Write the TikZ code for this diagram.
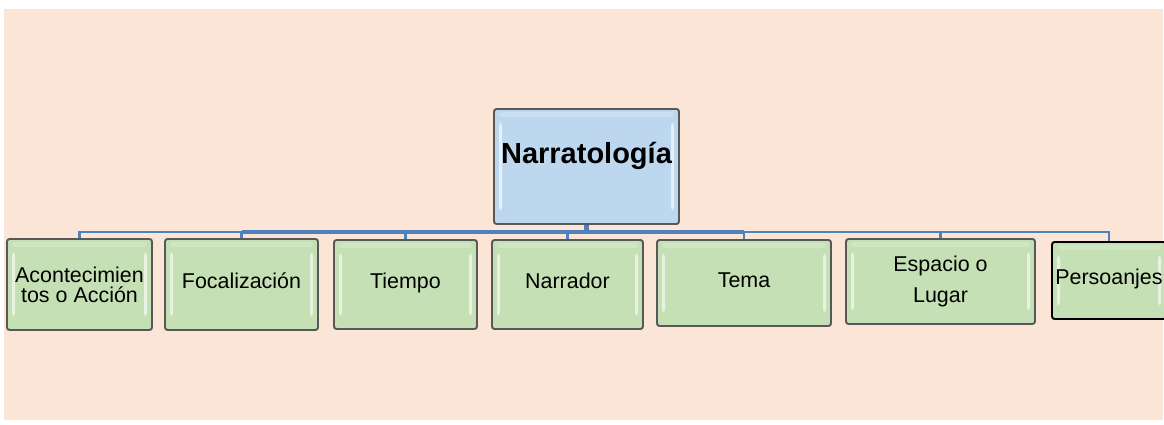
\documentclass[tikz,border=0pt]{standalone}
\usepackage{fontspec}
\setmainfont{Liberation Sans}
\usetikzlibrary{calc}

\definecolor{bgpeach}{RGB}{251,229,214}
\definecolor{rootblue}{RGB}{189,215,238}
\definecolor{leafgreen}{RGB}{197,224,180}
\definecolor{linkblue}{RGB}{79,129,189}
\definecolor{edgegray}{RGB}{88,88,88}

\begin{document}
\begin{tikzpicture}[x=0.02cm, y=-0.02cm,
    bevel/.style={draw=edgegray, line width=1.1pt, rounded corners=1.5pt, inner sep=0pt,
        align=center,
        path picture={
            \fill[white, opacity=.6] ($(path picture bounding box.north west)+(5,14)$) rectangle ($(path picture bounding box.south west)+(8,-14)$);
            \fill[white, opacity=.6] ($(path picture bounding box.north east)+(-8,14)$) rectangle ($(path picture bounding box.south east)+(-5,-14)$);
            \fill[white, opacity=.2] ($(path picture bounding box.north west)+(5,3)$) rectangle ($(path picture bounding box.north east)+(-5,8)$);
        }},
    leaf/.style={bevel, fill=leafgreen, font=\fontsize{12.2}{14}\selectfont},
    oneline/.style={leaf, text height=0.72em, text depth=0.21em},
    link/.style={linkblue, line width=1.2pt}]

    % === Background ===
    \useasboundingbox (0,0) rectangle (1164,425);
    \fill[bgpeach] (4,9) rectangle (1163,420);

    % === Root ===
    \node[bevel, fill=rootblue, minimum width=185*0.02cm, minimum height=115*0.02cm,
          font=\fontsize{16.5}{19}\selectfont\bfseries, text height=0.75em, text depth=1.06em]
          (root) at (586.5,166.5) {Narratología};

    % === Leaves ===
    \node[leaf, minimum width=145*0.02cm, minimum height=91*0.02cm, font=\fontsize{12.2}{11.4}\selectfont]
          (accion) at (79.5,284.5) {Acontecimien\\tos o Acción};
    \node[oneline, minimum width=153*0.02cm, minimum height=91*0.02cm] (focal) at (241.5,284.5) {Focalización};
    \node[oneline, minimum width=143*0.02cm, minimum height=89*0.02cm] (tiempo) at (405.5,284.5) {Tiempo};
    \node[oneline, minimum width=151*0.02cm, minimum height=89*0.02cm] (narrador) at (567.5,284.5) {Narrador};
    \node[oneline, minimum width=174*0.02cm, minimum height=86*0.02cm] (tema) at (744,283) {Tema};
    \node[leaf, minimum width=189*0.02cm, minimum height=85*0.02cm, font=\fontsize{12.2}{18}\selectfont]
          (espacio) at (940.5,281.5) {Espacio o\\Lugar};
    \node[oneline, minimum width=114*0.02cm, minimum height=77*0.02cm, draw=black] (personajes) at (1109,280.5) {Persoanjes};

    % === Connectors ===
    \coordinate (bus) at (586.5,232);
    \draw[link] (bus) -| (accion.north);
    \draw[link] (bus) -| (focal.north);
    \draw[link] (bus) -| (tiempo.north);
    \draw[link] (bus) -| (narrador.north);
    \draw[link] (bus) -| (tema.north);
    \draw[link] (bus) -| (espacio.north);
    \draw[link] (bus) -| (personajes.north);
    % darker middle part of the bus
    \draw[linkblue, line width=1.9pt] (focal.north |- bus) -- (tema.north |- bus);
    \draw[linkblue, line width=2.8pt] (root.south) -- (bus);

\end{tikzpicture}
\end{document}
